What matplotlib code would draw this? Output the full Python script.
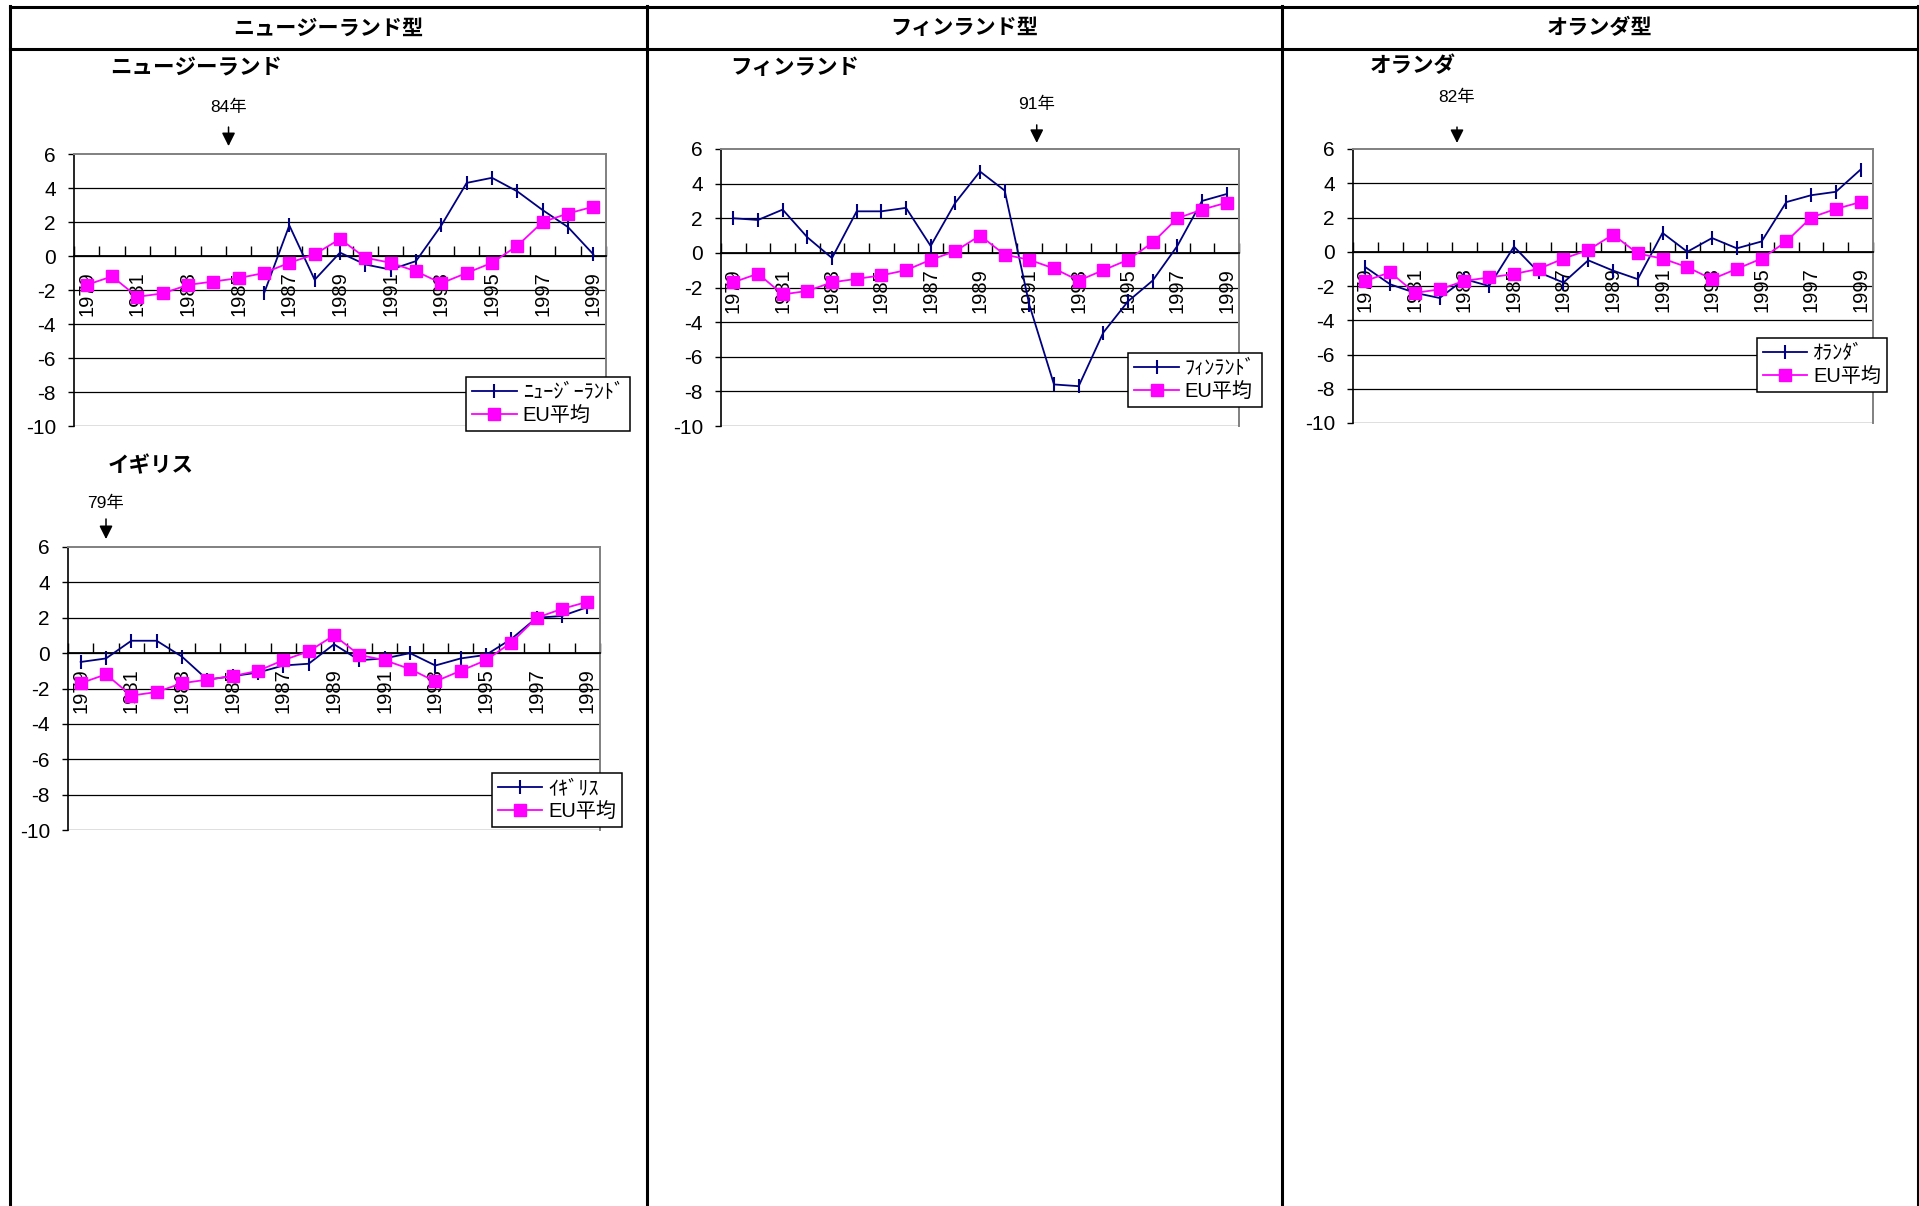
import matplotlib
matplotlib.use('Agg')
import matplotlib.pyplot as plt
from matplotlib.lines import Line2D
import numpy as np

plt.rcParams['font.family'] = ['Liberation Sans', 'Noto Sans CJK JP']

W, H = 1919, 1206
nan = np.nan

years = list(range(1979, 2000))
eu_avg = [-1.7, -1.2, -2.4, -2.2, -1.7, -1.5, -1.3, -1.0, -0.4, 0.1, 1.0,
          -0.1, -0.4, -0.9, -1.6, -1.0, -0.4, 0.6, 2.0, 2.5, 2.9]
new_zealand = [nan, nan, nan, nan, nan, nan, nan, -2.2, 1.8, -1.4, 0.2,
               -0.5, -0.8, -0.3, 1.8, 4.3, 4.6, 3.8, 2.7, 1.7, 0.1]
uk = [-0.5, -0.3, 0.7, 0.7, -0.2, -1.5, -1.3, -1.1, -0.7, -0.6, 0.5,
      -0.4, -0.3, 0.0, -0.7, -0.3, -0.1, 0.8, 2.0, 2.1, 2.6]
finland = [2.0, 1.9, 2.5, 0.9, -0.3, 2.4, 2.4, 2.6, 0.4, 2.9, 4.7,
           3.6, -3.0, -7.6, -7.7, -4.6, -2.8, -1.6, 0.4, 3.0, 3.4]
netherlands = [-0.9, -1.9, -2.4, -2.7, -1.6, -2.0, 0.3, -1.2, -1.8, -0.5, -1.1,
               -1.6, 1.1, 0.0, 0.8, 0.2, 0.6, 2.9, 3.3, 3.5, 4.8]

headers = ['ニュージーランド型', 'フィンランド型', 'オランダ型']
y_ticks = list(range(-10, 7, 2))

NAVY = '#000080'
MAGENTA = '#FF00FF'


def px(x, y):
    # pixel position (from top-left) to figure fraction
    return x / W, 1 - y / H


def make_axes(fig, left, top, right, bottom):
    return fig.add_axes([left / W, 1 - bottom / H, (right - left) / W, (bottom - top) / H])


def draw_panel(fig, box, series, title, title_xy, legend_label, legend_c,
               event_label, event_x, event_y):
    ax = make_axes(fig, *box)
    x = np.arange(len(years))

    for v in y_ticks[:-1]:
        ax.axhline(v, color='black', lw=0.9, zorder=1)

    ax.plot(x, series, color=NAVY, lw=1.3, marker='|', ms=10, mew=1.5,
            label=legend_label, zorder=4)
    ax.plot(x, eu_avg, color=MAGENTA, lw=1.3, marker='s', ms=8,
            label='EU平均', zorder=4)

    ax.set_xlim(-0.5, len(years) - 0.5)
    ax.set_ylim(-10, 6)

    ax.spines['bottom'].set_position(('data', 0))
    ax.spines['bottom'].set_linewidth(1.3)
    ax.spines['left'].set_linewidth(1.2)
    for side in ('top', 'right'):
        ax.spines[side].set_color('#808080')
        ax.spines[side].set_linewidth(1.4)

    ax.set_xticks(x[::2])
    ax.set_xticklabels([str(y) for y in years[::2]], rotation=90, fontsize=14.5)
    ax.set_xticks(np.arange(-0.5, len(years), 1), minor=True)
    ax.tick_params(axis='x', which='major', length=0, pad=11)
    ax.tick_params(axis='x', which='minor', direction='in', length=7, width=1)

    ax.set_yticks(y_ticks)
    ax.set_yticklabels([str(v) for v in y_ticks], fontsize=15)
    ax.tick_params(axis='y', direction='out', length=4, width=1, pad=9)

    leg = ax.legend(loc='center', bbox_to_anchor=px(*legend_c),
                    bbox_transform=fig.transFigure, fontsize=14.5,
                    frameon=True, fancybox=False, edgecolor='black',
                    framealpha=1, borderpad=0.3, labelspacing=0.2,
                    handlelength=2.2, handletextpad=0.3, borderaxespad=0)
    leg.get_frame().set_linewidth(1.1)

    # event marker above the plot area
    tr = ax.get_xaxis_transform()
    ax.annotate('', xy=(event_x, event_y[2]), xytext=(event_x, event_y[1]),
                xycoords=tr, textcoords=tr,
                arrowprops=dict(arrowstyle='-|>', color='black', lw=1.1,
                                mutation_scale=20, shrinkA=0, shrinkB=0))
    ax.text(event_x, event_y[0], event_label, transform=tr, ha='center',
            va='center', fontsize=12.5)

    fig.text(*px(*title_xy), title, ha='left', va='center', fontsize=15.5,
             fontweight='bold', family=['Noto Sans CJK JP'])
    return ax


fig = plt.figure(figsize=(W / 100, H / 100), dpi=100)

# table grid
lw_table = 2.2
for yy in (7, 49):
    fig.add_artist(Line2D([10 / W, 1918 / W], [1 - yy / H, 1 - yy / H],
                          color='black', lw=lw_table))
for xx in (10, 647, 1282, 1918):
    fig.add_artist(Line2D([xx / W, xx / W], [1 - 6 / H, 0],
                          color='black', lw=lw_table))

for label, cx in zip(headers, [328, 964, 1600]):
    fig.text(*px(cx, 28), label, ha='center', va='center', fontsize=15.2,
             fontweight='bold', family=['Noto Sans CJK JP'])

draw_panel(fig, (74, 154, 606, 426), new_zealand, 'ニュージーランド', (110, 68),
           'ﾆｭｰｼﾞｰﾗﾝﾄﾞ', (548, 404), '84年', 5.6, (1.173, 1.099, 1.029))
draw_panel(fig, (68, 547, 600, 830), uk, 'イギリス', (108, 466),
           'ｲｷﾞﾘｽ', (557, 800), '79年', 1.0, (1.155, 1.099, 1.028))
draw_panel(fig, (721, 149, 1239, 426), finland, 'フィンランド', (730, 68),
           'ﾌｨﾝﾗﾝﾄﾞ', (1195, 380), '91年', 12.3, (1.162, 1.087, 1.022))
draw_panel(fig, (1353, 149, 1873, 423), netherlands, 'オランダ', (1370, 66),
           'ｵﾗﾝﾀﾞ', (1822, 365), '82年', 3.7, (1.19, 1.080, 1.022))

fig.savefig('out.png', dpi=100)
